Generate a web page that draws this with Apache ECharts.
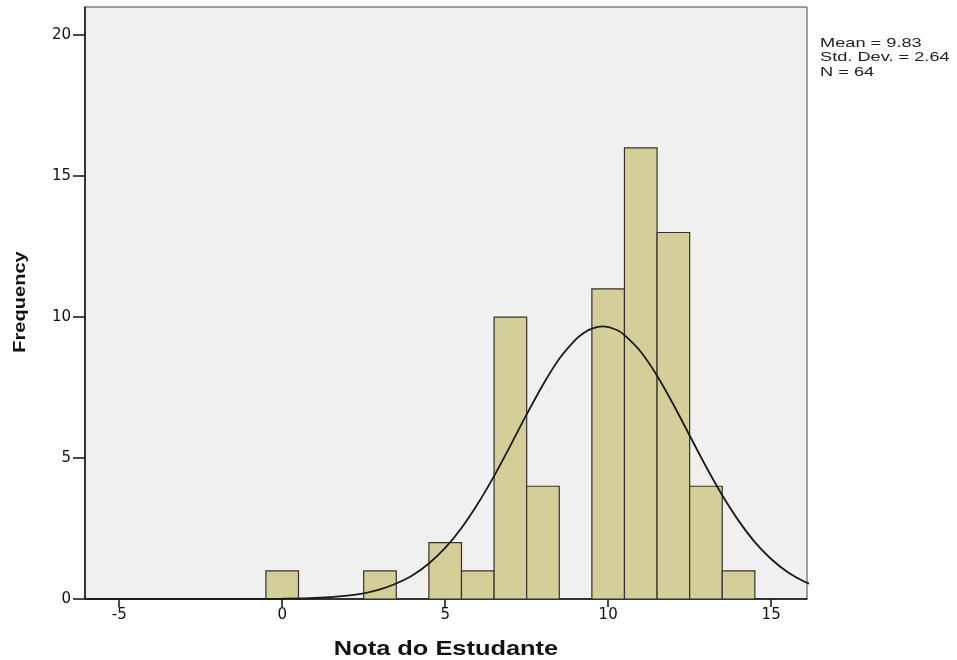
<!DOCTYPE html>
<html>
<head>
<meta charset="utf-8">
<script src="https://cdn.jsdelivr.net/npm/echarts@6/dist/echarts.min.js"></script>
<style>html,body{margin:0;padding:0;background:#fff}#c{width:957px;height:660px}</style>
</head>
<body>
<div id="c"></div>
<script>
// Histogram bins (centers) and frequencies
const binCenters = [0, 3, 5, 6, 7, 8, 10, 11, 12, 13, 14];
const frequencies = [1, 1, 2, 1, 10, 4, 11, 16, 13, 4, 1];
// Normal curve points
const curveX = [-6, -3, -1, 0, 1, 2, 2.5, 3, 3.5, 4, 4.5, 5, 5.5, 6, 6.5, 7, 7.5, 8, 8.5, 9, 9.25, 9.5, 9.83, 10.25, 10.5, 11, 11.5, 12, 12.5, 13, 13.5, 14, 14.5, 15, 15.5, 16, 16.5];
const curveY = [0, 0, 0.002, 0.009, 0.036, 0.12, 0.2, 0.34, 0.55, 0.84, 1.26, 1.81, 2.52, 3.38, 4.36, 5.44, 6.55, 7.6, 8.52, 9.2, 9.44, 9.59, 9.67, 9.55, 9.36, 8.77, 7.92, 6.9, 5.8, 4.7, 3.68, 2.78, 2.02, 1.42, 0.96, 0.63, 0.4];
const xTicks = [-5, 0, 5, 10, 15];
const yTicks = [0, 5, 10, 15, 20];
const statsLines = ['Mean = 9.83', 'Std. Dev. = 2.64', 'N = 64'];

const chart = echarts.init(document.getElementById('c'), null, {renderer: 'canvas'});
const barData = binCenters.map((x, i) => [x, frequencies[i]]);
const curveData = curveX.map((x, i) => [x, curveY[i]]);

chart.setOption({
  animation: false,
  backgroundColor: '#ffffff',
  grid: {left: 85, right: 150, top: 7, bottom: 61, show: true, backgroundColor: '#f0f0f0', borderColor: '#444', borderWidth: 1},
  xAxis: {
    type: 'value', min: -6.05, max: 16.1,
    splitLine: {show: false},
    axisLine: {onZero: false, lineStyle: {color: '#111', width: 1.5}},
    axisTick: {show: true, length: 8, customValues: xTicks, lineStyle: {color: '#111', width: 1.5}},
    axisLabel: {customValues: xTicks, margin: 9, color: '#111', fontFamily: 'DejaVu Sans', fontSize: 15}
  },
  yAxis: {
    type: 'value', min: 0, max: 21,
    splitLine: {show: false},
    axisLine: {show: true, onZero: false, lineStyle: {color: '#111', width: 1.5}},
    axisTick: {show: true, length: 12, customValues: yTicks, lineStyle: {color: '#111', width: 1.5}},
    axisLabel: {customValues: yTicks, margin: 14, color: '#111', fontFamily: 'DejaVu Sans', fontSize: 15}
  },
  series: [
    {
      type: 'custom',
      data: barData,
      encode: {x: 0, y: 1},
      z: 2,
      renderItem: function (params, api) {
        const x = api.value(0), y = api.value(1);
        const p1 = api.coord([x - 0.5, y]);
        const p2 = api.coord([x + 0.5, 0]);
        return {
          type: 'rect',
          shape: {x: p1[0], y: p1[1], width: p2[0] - p1[0], height: p2[1] - p1[1]},
          style: {fill: '#d4cf98', stroke: '#333', lineWidth: 1.2}
        };
      }
    },
    {
      type: 'line',
      data: curveData,
      smooth: 0.3,
      showSymbol: false,
      symbol: 'none',
      clip: true,
      z: 3,
      lineStyle: {color: '#1a1a1a', width: 1.8}
    }
  ],
  graphic: [
    {type: 'text', x: 820, y: 36, scaleX: 1.4, style: {text: statsLines.join('\n'), font: '13px "Liberation Sans"', fill: '#222', lineHeight: 14.5}},
    {type: 'text', x: 446, y: 649, scaleX: 1.27, style: {text: 'Nota do Estudante', font: 'bold 20px "Liberation Sans"', fill: '#111', textAlign: 'center', textVerticalAlign: 'middle'}},
    {type: 'text', x: 20, y: 302, rotation: Math.PI / 2, scaleX: 1.18, style: {text: 'Frequency', font: 'bold 17px "Liberation Sans"', fill: '#111', textAlign: 'center', textVerticalAlign: 'middle'}}
  ]
});
</script>
</body>
</html>
